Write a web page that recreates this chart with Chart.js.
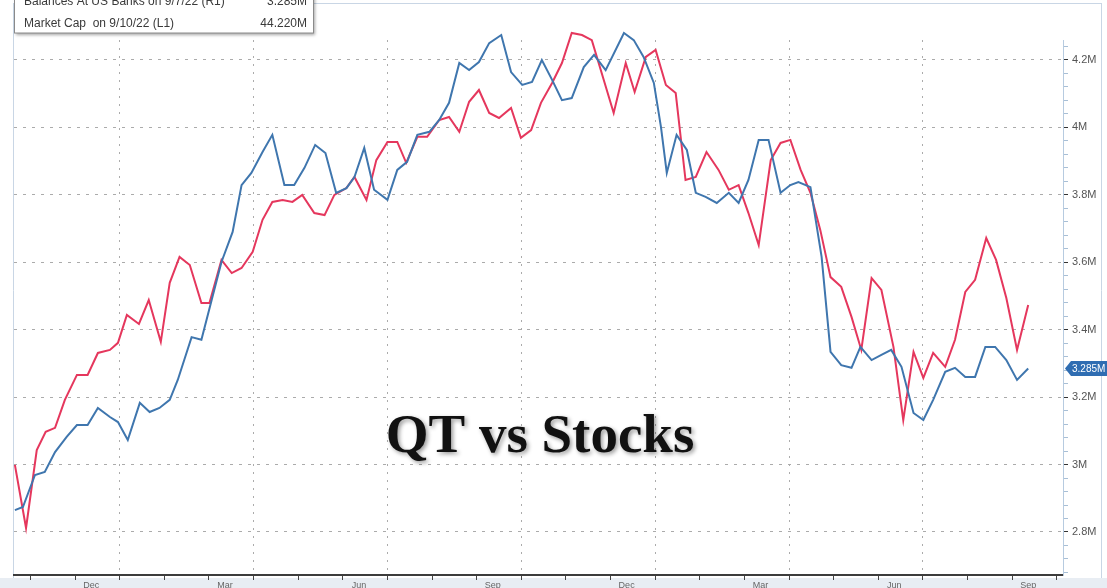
<!DOCTYPE html>
<html>
<head>
<meta charset="utf-8">
<script src="https://cdn.jsdelivr.net/npm/chart.js@4.4.0/dist/chart.umd.min.js"></script>
<style>
html, body { margin: 0; padding: 0; background: #fff; }
</style>
</head>
<body>
<canvas id="grafico" width="1107" height="588"></canvas>
<script>
// x = months counted from Jan 1 2021, weekly readings
var reservesX = [-2.35, -2.17, -1.90, -1.68, -1.45, -1.19, -0.96, -0.72, -0.49, -0.22, -0.04, 0.18, 0.45, 0.67, 0.89, 1.12, 1.30, 1.61, 1.83, 2.06,
    2.28, 2.53, 2.73, 2.95, 3.20, 3.42, 3.69, 3.91, 4.14, 4.38, 4.61, 4.85, 5.08, 5.26, 5.48, 5.70, 6.00, 6.22, 6.44, 6.67,
    6.94, 7.16, 7.38, 7.61, 7.83, 8.05, 8.28, 8.55, 8.77, 9.02, 9.24, 9.46, 9.69, 9.91, 10.13, 10.40, 10.63, 10.89, 11.30, 11.52,
    11.74, 11.97, 12.13, 12.26, 12.48, 12.71, 12.91, 13.13, 13.38, 13.65, 13.87, 14.09, 14.32, 14.54, 14.81, 15.03, 15.21, 15.48, 15.73, 15.93,
    16.17, 16.40, 16.60, 16.85, 17.07, 17.29, 17.52, 17.79, 18.01, 18.23, 18.50, 18.72, 18.95, 19.17, 19.40, 19.62, 19.87, 20.11, 20.36];
var reservesY = [2.865, 2.874, 2.969, 2.978, 3.037, 3.082, 3.117, 3.117, 3.168, 3.141, 3.126, 3.073, 3.183, 3.156, 3.168, 3.192, 3.251, 3.378, 3.370, 3.488,
    3.601, 3.690, 3.829, 3.865, 3.927, 3.978, 3.829, 3.829, 3.880, 3.948, 3.924, 3.806, 3.820, 3.853, 3.939, 3.815, 3.785, 3.874, 3.898, 3.978,
    3.987, 4.022, 4.073, 4.191, 4.170, 4.194, 4.250, 4.274, 4.164, 4.126, 4.135, 4.200, 4.141, 4.081, 4.087, 4.179, 4.215, 4.170, 4.280, 4.259,
    4.209, 4.132, 4.001, 3.865, 3.978, 3.933, 3.806, 3.794, 3.776, 3.806, 3.776, 3.844, 3.963, 3.963, 3.806, 3.829, 3.838, 3.823, 3.616, 3.334,
    3.295, 3.287, 3.349, 3.310, 3.325, 3.340, 3.290, 3.153, 3.132, 3.192, 3.275, 3.287, 3.260, 3.260, 3.349, 3.349, 3.310, 3.251, 3.285];

var mktCapX = [-2.35, -2.10, -1.86, -1.66, -1.45, -1.23, -0.96, -0.72, -0.49, -0.22, -0.04, 0.16, 0.43, 0.65, 0.92, 1.12, 1.34, 1.57, 1.83, 2.01,
    2.28, 2.51, 2.73, 2.98, 3.20, 3.42, 3.65, 3.87, 4.09, 4.36, 4.59, 4.81, 5.08, 5.26, 5.53, 5.75, 6.00, 6.22, 6.42, 6.67,
    6.89, 7.16, 7.38, 7.61, 7.83, 8.05, 8.28, 8.50, 8.77, 8.99, 9.22, 9.44, 9.69, 9.91, 10.13, 10.36, 10.58, 11.07, 11.34, 11.54,
    11.79, 12.01, 12.24, 12.46, 12.68, 12.91, 13.15, 13.42, 13.65, 13.87, 14.09, 14.32, 14.59, 14.81, 15.03, 15.26, 15.48, 15.70, 15.93, 16.17,
    16.40, 16.62, 16.85, 17.07, 17.34, 17.56, 17.79, 18.01, 18.23, 18.50, 18.72, 18.95, 19.17, 19.42, 19.64, 19.87, 20.11, 20.36];
var mktCapY = [2.999, 2.812, 3.043, 3.097, 3.109, 3.192, 3.266, 3.266, 3.331, 3.340, 3.361, 3.444, 3.417, 3.488, 3.364, 3.539, 3.616, 3.592, 3.479, 3.479,
    3.607, 3.568, 3.583, 3.631, 3.726, 3.779, 3.785, 3.779, 3.800, 3.746, 3.740, 3.800, 3.820, 3.853, 3.785, 3.903, 3.957, 3.957, 3.895, 3.972,
    3.972, 4.022, 4.031, 3.987, 4.076, 4.111, 4.043, 4.028, 4.058, 3.969, 3.992, 4.073, 4.132, 4.191, 4.280, 4.274, 4.259, 4.043, 4.191, 4.105,
    4.209, 4.230, 4.126, 4.102, 3.844, 3.853, 3.927, 3.874, 3.815, 3.829, 3.746, 3.651, 3.903, 3.954, 3.963, 3.874, 3.806, 3.696, 3.556, 3.527,
    3.438, 3.340, 3.553, 3.518, 3.349, 3.132, 3.334, 3.257, 3.331, 3.290, 3.370, 3.512, 3.548, 3.672, 3.607, 3.494, 3.340, 3.473];

var monthLabels = ["Dec", "Mar", "Jun", "Sep", "Dec", "Mar", "Jun", "Sep"];
var monthLabelAt = [-0.64, 2.36, 5.36, 8.36, 11.36, 14.36, 17.36, 20.36];
var quarterLines = [0, 3, 6, 9, 12, 15, 18];
var yMajor = [2.8, 3, 3.2, 3.4, 3.6, 3.8, 4, 4.2];

var legendRows = [
    { text: "Balances At US Banks on 9/7/22 (R1)", value: "3.285M" },
    { text: "Market Cap  on 9/10/22 (L1)", value: "44.220M" }
];
var bigTitle = "QT vs Stocks";

function toPoints(xs, ys) {
    var out = [];
    for (var i = 0; i < xs.length; i++) out.push({ x: xs[i], y: ys[i] });
    return out;
}

function isMajorY(v) {
    return Math.round(v * 100) % 20 === 0;
}

var moldura = {
    id: "moldura",
    beforeDraw: function (chart) {
        var ctx = chart.ctx;
        ctx.save();
        ctx.fillStyle = "#fff";
        ctx.fillRect(0, 0, chart.width, chart.height);
        ctx.fillStyle = "#e8edf3";
        ctx.fillRect(0, 578, chart.width, 10);
        ctx.strokeStyle = "#c9d6e5";
        ctx.lineWidth = 1;
        ctx.beginPath();
        ctx.moveTo(13.5, 3);
        ctx.lineTo(13.5, 578);
        ctx.moveTo(13, 3.5);
        ctx.lineTo(1101, 3.5);
        ctx.moveTo(1101.5, 3);
        ctx.lineTo(1101.5, 578);
        ctx.stroke();
        ctx.restore();
    },
    afterDraw: function (chart) {
        var ctx = chart.ctx;
        ctx.save();

        // legend box top left
        ctx.shadowColor = "rgba(0,0,0,0.35)";
        ctx.shadowBlur = 3;
        ctx.shadowOffsetX = 2;
        ctx.shadowOffsetY = 2;
        ctx.fillStyle = "#fff";
        ctx.fillRect(14, -10, 299, 43);
        ctx.shadowColor = "transparent";
        ctx.strokeStyle = "#8a8a8a";
        ctx.lineWidth = 1;
        ctx.strokeRect(14.5, -10, 299, 43);
        ctx.font = "12px 'Liberation Sans', Arial, sans-serif";
        ctx.fillStyle = "#3a3a3a";
        ctx.textBaseline = "alphabetic";
        for (var i = 0; i < legendRows.length; i++) {
            var by = 5 + i * 22;
            ctx.textAlign = "left";
            ctx.fillText(legendRows[i].text, 24, by);
            ctx.textAlign = "right";
            ctx.fillText(legendRows[i].value, 307, by);
        }

        // big title
        ctx.font = "bold 55px 'Liberation Serif', 'Times New Roman', serif";
        ctx.textAlign = "center";
        ctx.fillStyle = "#111";
        ctx.shadowColor = "rgba(0,0,0,0.4)";
        ctx.shadowBlur = 4;
        ctx.shadowOffsetX = 2;
        ctx.shadowOffsetY = 2;
        ctx.fillText(bigTitle, 540, 452);
        ctx.shadowColor = "transparent";

        // last value tag of reserves
        var ys = chart.scales.y;
        var ty = ys.getPixelForValue(reservesY[reservesY.length - 1]);
        ctx.fillStyle = "#2f6db2";
        ctx.beginPath();
        ctx.moveTo(1065, ty);
        ctx.lineTo(1071, ty - 7.5);
        ctx.lineTo(1110, ty - 7.5);
        ctx.lineTo(1110, ty + 7.5);
        ctx.lineTo(1071, ty + 7.5);
        ctx.closePath();
        ctx.fill();
        ctx.fillStyle = "#fff";
        ctx.font = "10px 'Liberation Sans', Arial, sans-serif";
        ctx.textAlign = "left";
        ctx.textBaseline = "middle";
        ctx.fillText(reservesY[reservesY.length - 1].toFixed(3) + "M", 1072, ty + 0.5);
        ctx.restore();
    }
};

new Chart(document.getElementById("grafico"), {
    type: "line",
    data: {
        datasets: [{
            label: "Reserves",
            data: toPoints(reservesX, reservesY),
            borderColor: "#3f76ae",
            borderWidth: 2,
            clip: false
        }, {
            label: "Market Cap",
            data: toPoints(mktCapX, mktCapY),
            borderColor: "#e5375d",
            borderWidth: 2,
            clip: false
        }]
    },
    options: {
        responsive: false,
        animation: false,
        layout: { padding: { left: 14, top: 40, right: 0, bottom: 0 } },
        elements: { point: { radius: 0 }, line: { tension: 0 } },
        plugins: { legend: { display: false }, tooltip: { enabled: false } },
        scales: {
            x: {
                type: "linear",
                min: -2.37,
                max: 21.14,
                afterFit: function (s) { s.height = 13; },
                afterBuildTicks: function (s) {
                    var t = [];
                    for (var m = -2; m <= 21; m++) t.push({ value: m });
                    for (var k = 0; k < monthLabelAt.length; k++) t.push({ value: monthLabelAt[k] });
                    t.sort(function (a, b) { return a.value - b.value; });
                    s.ticks = t;
                },
                ticks: {
                    autoSkip: false,
                    maxRotation: 0,
                    padding: 0,
                    color: "#666",
                    font: { size: 9, family: "'Liberation Sans', Arial, sans-serif" },
                    callback: function (v) {
                        var k = monthLabelAt.indexOf(v);
                        return k >= 0 ? monthLabels[k] : "";
                    }
                },
                grid: {
                    color: function (c) {
                        return c.tick && quarterLines.indexOf(c.tick.value) >= 0 ? "#ababab" : "rgba(0,0,0,0)";
                    },
                    tickColor: function (c) {
                        return c.tick && monthLabelAt.indexOf(c.tick.value) < 0 ? "#444" : "rgba(0,0,0,0)";
                    },
                    tickLength: 5,
                    lineWidth: 1
                },
                border: { display: true, color: "#3c3c3c", width: 2, dash: [2, 6] }
            },
            y: {
                position: "right",
                min: 2.6724,
                max: 4.2593,
                afterFit: function (s) { s.width = 44; },
                afterBuildTicks: function (s) {
                    var t = [];
                    for (var i = 0; i <= 39; i++) t.push({ value: Math.round((2.68 + i * 0.04) * 100) / 100 });
                    s.ticks = t;
                },
                ticks: {
                    autoSkip: false,
                    padding: 4,
                    color: "#555",
                    font: { size: 11, family: "'Liberation Sans', Arial, sans-serif" },
                    callback: function (v) {
                        return yMajor.indexOf(v) >= 0 ? v + "M" : "";
                    }
                },
                grid: {
                    color: function (c) {
                        return c.tick && isMajorY(c.tick.value) ? "#ababab" : "rgba(0,0,0,0)";
                    },
                    tickColor: function (c) {
                        return c.tick && isMajorY(c.tick.value) ? "#333" : "#a8bfd6";
                    },
                    tickLength: 5,
                    lineWidth: 1
                },
                border: { display: true, color: "#b7cbe0", width: 1, dash: [3, 6] }
            }
        }
    },
    plugins: [moldura]
});
</script>
</body>
</html>
